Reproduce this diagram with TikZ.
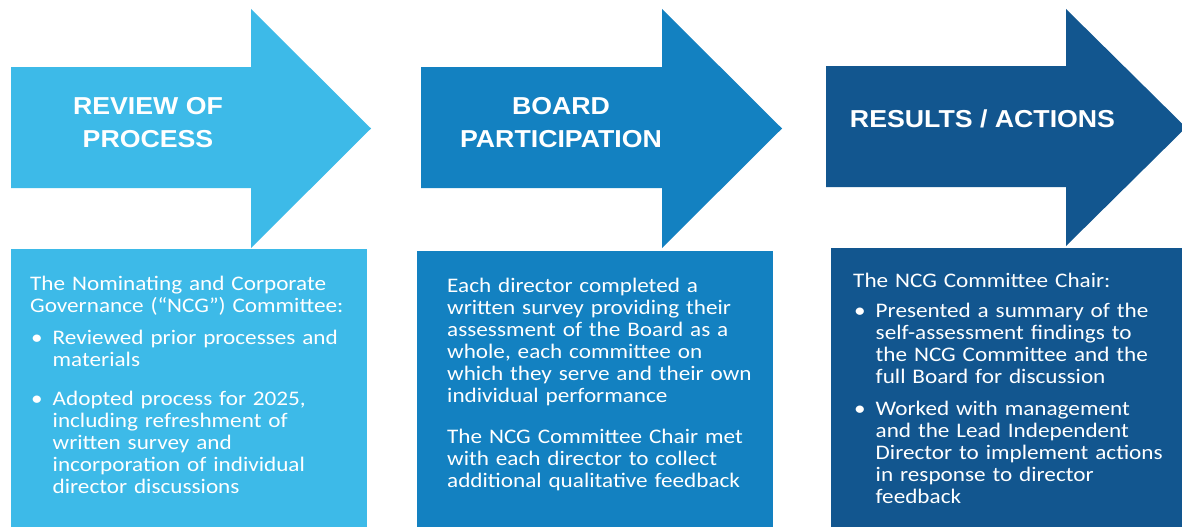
\documentclass[tikz,border=0pt]{standalone}
\usepackage{fontspec}
\setmainfont{Carlito}[FakeStretch=1.12]
\newfontfamily\headfont{Liberation Sans}[FakeStretch=1.09]
\usetikzlibrary{positioning}
\definecolor{stepone}{HTML}{3DBAE8}
\definecolor{steptwo}{HTML}{1381C1}
\definecolor{stepthree}{HTML}{12568F}
\newcommand{\bitem}{\makebox[22.5pt][l]{\hspace{1pt}\textbullet}}
\newcommand{\bindent}{\hspace*{22.5pt}}

\begin{document}
\begin{tikzpicture}[x=1pt,y=-1pt,
  headtext/.style={font=\headfont\bfseries\fontsize{24.5}{33}\selectfont,text=white,align=center,inner sep=0pt},
  bodytext/.style={font=\fontsize{20.7}{22.1}\selectfont,text=white,text width=400pt,align=left,inner sep=0pt,anchor=base west}]
\clip (0,0) rectangle (1182,527);
\fill[white] (0,0) rectangle (1182,527);
% arrows
\fill[stepone] (11,67) -- (251,67) -- (251,9) -- (371,128.5) -- (251,248) -- (251,188) -- (11,188) -- cycle;
\fill[steptwo] (421,67) -- (662,67) -- (662,9) -- (782,128.5) -- (662,248) -- (662,188) -- (421,188) -- cycle;
\fill[stepthree] (826,66) -- (1066,66) -- (1066,9) -- (1186,127.5) -- (1066,246) -- (1066,187) -- (826,187) -- cycle;
% boxes
\fill[stepone] (11,249) rectangle (367,527);
\fill[steptwo] (417,251) rectangle (773,527);
\fill[stepthree] (831,248) rectangle (1190,527);
% titles
\node[headtext] (review) at (148,122.5) {REVIEW OF\\PROCESS};
\node[headtext] (board) at (561,122.5) {BOARD\\PARTICIPATION};
\node[headtext] (results) at (982.5,119) {RESULTS / ACTIONS};
% texts
\node[bodytext] (reviewtext) at (30,290) {The Nominating and Corporate\\
Governance (“NCG”) Committee:\\[10pt]
\bitem Reviewed prior processes and\\
\bindent materials\\[17pt]
\bitem Adopted process for 2025,\\
\bindent including refreshment of\\
\bindent written survey and\\
\bindent incorporation of individual\\
\bindent director discussions};
\node[bodytext] (boardtext) at (447,292) {Each director completed a\\
written survey providing their\\
assessment of the Board as a\\
whole, each committee on\\
which they serve and their own\\
individual performance\\[19pt]
The NCG Committee Chair met\\
with each director to collect\\
additional qualitative feedback};
\node[bodytext] (resultstext) at (853,287) {The NCG Committee Chair:\\[8pt]
\bitem Presented a summary of the\\
\bindent self-assessment findings to\\
\bindent the NCG Committee and the\\
\bindent full Board for discussion\\[10pt]
\bitem Worked with management\\
\bindent and the Lead Independent\\
\bindent Director to implement actions\\
\bindent in response to director\\
\bindent feedback};
\end{tikzpicture}
\end{document}
